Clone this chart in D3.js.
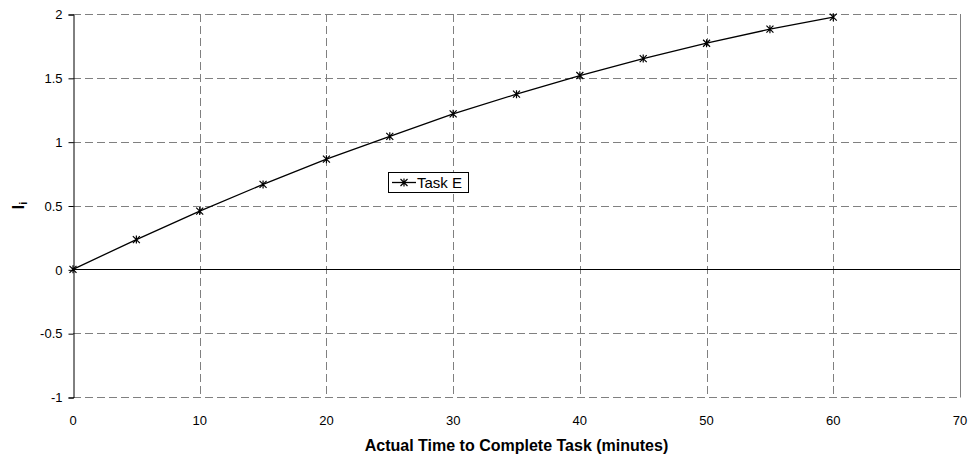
<!DOCTYPE html>
<html><head><meta charset="utf-8">
<script src="https://cdn.jsdelivr.net/npm/d3@7"></script>
<style>body{margin:0;background:#fff}svg{display:block}text{font-family:"Liberation Sans",Arial,sans-serif}</style>
</head><body>
<svg id="c" width="971" height="458"></svg>
<script>
const timeMinutes = [0,5,10,15,20,25,30,35,40,45,50,55,60];
const taskE = [0,0.233,0.456,0.665,0.863,1.042,1.218,1.372,1.518,1.651,1.771,1.881,1.975];
const xTicks = [0,10,20,30,40,50,60,70];
const yTicks = [-1,-0.5,0,0.5,1,1.5,2];
const seriesName = "Task E";
const xTitle = "Actual Time to Complete Task (minutes)";

const svg = d3.select("#c");
const L=73,R=960,T=14,B=397;
const x = d3.scaleLinear().domain([0,70]).range([L,R]);
const y = d3.scaleLinear().domain([-1,2]).range([B,T]);

// grid
const g = svg.append("g");
g.selectAll(".hg").data(yTicks.filter(v=>v!==0)).join("line")
  .attr("x1",L).attr("x2",R).attr("y1",d=>Math.round(y(d))+0.5).attr("y2",d=>Math.round(y(d))+0.5)
  .attr("stroke","#808080").attr("stroke-dasharray","8,4");
g.selectAll(".vg").data(xTicks.filter(v=>v!==0 && v!==70)).join("line")
  .attr("x1",d=>Math.round(x(d))+0.5).attr("x2",d=>Math.round(x(d))+0.5).attr("y1",T).attr("y2",B)
  .attr("stroke","#808080").attr("stroke-dasharray","8,4");
// right border
g.append("line").attr("x1",R+0.5).attr("x2",R+0.5).attr("y1",T).attr("y2",B+0.5).attr("stroke","#808080");

// y axis
const yAxis = d3.axisLeft(y).tickValues(yTicks).tickSize(5).tickPadding(6).tickFormat(d=>String(d));
const ya = svg.append("g").attr("transform",`translate(${L+0.5},0.5)`).call(yAxis);
ya.select(".domain").attr("stroke","#000");
ya.selectAll("text").attr("font-size",13).attr("fill","#000");

// x axis line at y=0
svg.append("line").attr("x1",L).attr("x2",R).attr("y1",Math.round(y(0))+0.5).attr("y2",Math.round(y(0))+0.5).attr("stroke","#000");
// x tick labels at bottom
svg.append("g").selectAll("text").data(xTicks).join("text")
  .attr("x",d=>x(d)).attr("y",B+28).attr("text-anchor","middle").attr("font-size",13).text(d=>d);

// titles
svg.append("text").attr("x",(L+R)/2).attr("y",451).attr("text-anchor","middle")
  .attr("font-size",16).attr("font-weight","bold").text(xTitle);
const yl = svg.append("text").attr("transform",`translate(24,${(T+B)/2}) rotate(-90)`)
  .attr("text-anchor","middle").attr("font-size",16).attr("font-weight","bold");
yl.append("tspan").text("I");
yl.append("tspan").attr("font-size",11).attr("dy",3).text("i");

// line
const line = d3.line().x(d=>x(d[0])).y(d=>y(d[1]));
const pts = timeMinutes.map((t,i)=>[t,taskE[i]]);
svg.append("path").datum(pts).attr("d",line).attr("fill","none").attr("stroke","#000").attr("stroke-width",1.3);

function star(sel,cx,cy){
  const s=3.5;
  sel.append("path").attr("d",`M${cx-s},${cy-s}L${cx+s},${cy+s}M${cx-s},${cy+s}L${cx+s},${cy-s}M${cx},${cy-s-0.5}L${cx},${cy+s+0.5}`)
    .attr("stroke","#000").attr("stroke-width",1.2).attr("fill","none");
}
const mk = svg.append("g");
pts.forEach(p=>star(mk,x(p[0]),y(p[1])));

// legend
const lg = svg.append("g");
lg.append("rect").attr("x",388.5).attr("y",172.5).attr("width",80).attr("height",20).attr("fill","#fff").attr("stroke","#000");
lg.append("line").attr("x1",392).attr("x2",416).attr("y1",182.5).attr("y2",182.5).attr("stroke","#000").attr("stroke-width",1.3);
star(lg,404,182.5);
lg.append("text").attr("x",417).attr("y",188).attr("font-size",15).text(seriesName);
</script>
</body></html>
